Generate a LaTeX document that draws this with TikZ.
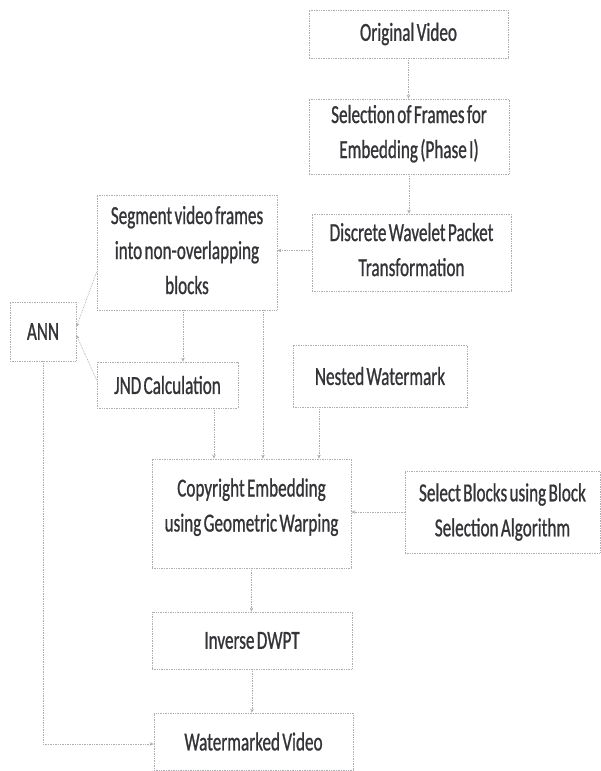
\documentclass[tikz,border=0pt]{standalone}
\usepackage{fontspec}
\setmainfont{Carlito}[FakeStretch=0.66, FakeBold=0.8, WordSpace=0.6]
\usetikzlibrary{arrows.meta}
\definecolor{linegray}{RGB}{172,174,180}
\definecolor{textgray}{RGB}{52,52,56}
\tikzset{
  box/.style={draw=linegray, densely dotted, line width=0.7pt, align=center,
    text=textgray, inner sep=0pt, font=\fontsize{26}{35}\selectfont},
  conn/.style={draw=linegray, densely dotted, line width=0.7pt,
    -{Stealth[length=4pt,width=3.5pt]}},
}
\begin{document}
\begin{tikzpicture}[x=1pt,y=-1pt]
\useasboundingbox[fill=white] (0,0) rectangle (601,771);
\node[box, minimum width=199pt, minimum height=48pt] (orig) at (408.5,34) {Original Video};
\node[box, minimum width=200pt, minimum height=75pt] (sel) at (409,136.5) {Selection of Frames for\\Embedding (Phase I)\rule[-10pt]{0pt}{0pt}};
\node[box, minimum width=199pt, minimum height=77pt] (dwpt) at (411.5,252.5) {Discrete Wavelet Packet\\Transformation\rule[-6pt]{0pt}{0pt}};
\node[box, minimum width=180pt, minimum height=115pt] (seg) at (187,252.5) {Segment video frames\\into non-overlapping\\blocks\rule[-5pt]{0pt}{0pt}};
\node[box, minimum width=66pt, minimum height=59pt] (ann) at (43,331.5) {ANN};
\node[box, minimum width=141pt, minimum height=46pt] (jnd) at (167.5,385) {JND Calculation};
\node[box, minimum width=174pt, minimum height=62pt] (nested) at (380,376) {Nested Watermark};
\node[box, minimum width=199pt, minimum height=109pt] (copy) at (251.5,513.5) {Copyright Embedding\\using Geometric Warping\rule[-17pt]{0pt}{0pt}};
\node[box, minimum width=195pt, minimum height=82pt] (select) at (502.5,512) {Select Blocks using Block\\Selection Algorithm};
\node[box, minimum width=200pt, minimum height=57pt] (inv) at (252,640.5) {Inverse DWPT};
\node[box, minimum width=199pt, minimum height=57pt] (wm) at (253.5,741.5) {Watermarked Video};

\draw[conn] (orig.south) -- (orig.south |- sel.north);
\draw[conn] (sel.south) -- (sel.south |- dwpt.north);
\draw[conn] ([yshift=2pt]dwpt.west) -- ([yshift=2pt]dwpt.west -| seg.east);
\draw[conn] ([xshift=-4pt]seg.south) -- ([xshift=-4pt]seg.south |- jnd.north);
\draw[conn] ([xshift=76pt]seg.south) -- ([xshift=76pt]seg.south |- copy.north);
\draw[conn] ([xshift=46.5pt]jnd.south) -- ([xshift=46.5pt]jnd.south |- copy.north);
\draw[conn] ([xshift=-61pt]nested.south) -- ([xshift=-61pt]nested.south |- copy.north);
\draw[conn] (select.west) -- (select.west -| copy.east);
\draw[conn] (copy.south) -- (copy.south |- inv.north);
\draw[conn] (inv.south) -- (inv.south |- wm.north);
\draw[conn] ([yshift=-19.5pt]seg.west) -- ([yshift=4.5pt]ann.east);
\draw[conn] ([yshift=5pt]jnd.west) -- ([yshift=-3.5pt]ann.east);
\draw[conn] (ann.south) |- ([yshift=-2.5pt]wm.west);
\end{tikzpicture}
\end{document}
